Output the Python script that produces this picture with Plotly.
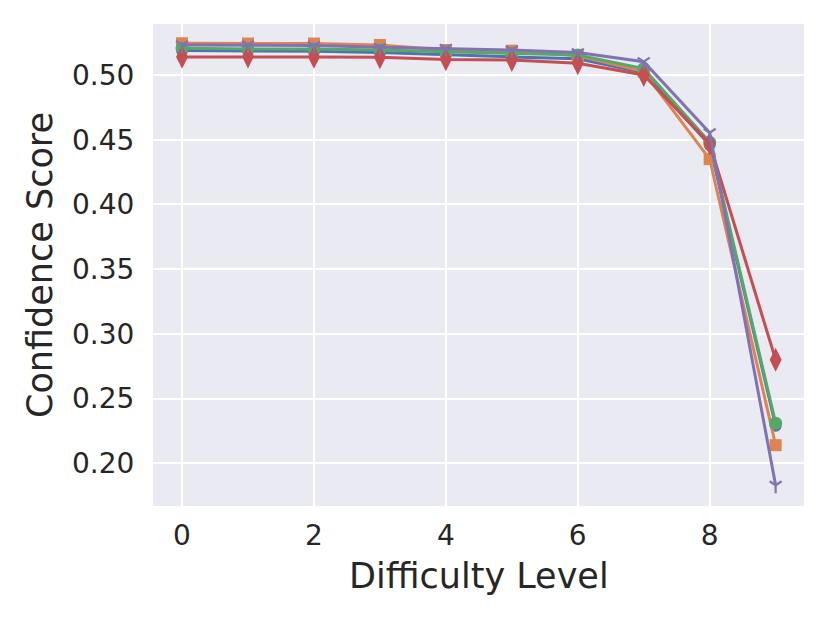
import plotly.graph_objects as go

levels = [0, 1, 2, 3, 4, 5, 6, 7, 8, 9]
blue = [0.519, 0.5188, 0.5183, 0.5173, 0.5155, 0.514, 0.5125, 0.502, 0.446, 0.229]
orange = [0.5245, 0.5243, 0.5243, 0.5232, 0.5193, 0.5188, 0.5148, 0.5026, 0.435, 0.214]
green = [0.5206, 0.520, 0.520, 0.5193, 0.518, 0.5168, 0.5155, 0.505, 0.448, 0.231]
red = [0.514, 0.5142, 0.514, 0.5137, 0.512, 0.5116, 0.509, 0.500, 0.447, 0.280]
purple = [0.5232, 0.5232, 0.5227, 0.5214, 0.5206, 0.5193, 0.5173, 0.5103, 0.4554, 0.183]

series = [
    (blue, "#4C72B0", "circle", 12),
    (orange, "#DD8452", "square", 12),
    (green, "#55A868", "circle", 13),
    (red, "#C44E52", "diamond-tall", 17),
    (purple, "#8172B3", "y-down-open", 10),
]

fig = go.Figure()
for vals, col, sym, sz in series:
    marker = dict(symbol=sym, size=sz, color=col)
    if "open" in sym:
        marker["line"] = dict(color=col, width=2.2)
    else:
        marker["line"] = dict(width=0)
    fig.add_trace(go.Scatter(x=levels, y=vals, mode="lines+markers",
                             line=dict(color=col, width=3), marker=marker,
                             showlegend=False))

fig.update_layout(
    width=830, height=623,
    margin=dict(l=145, r=34, t=16, b=125),
    paper_bgcolor="white", plot_bgcolor="#EAEAF2",
    font=dict(family="DejaVu Sans", color="#262626"),
    xaxis=dict(range=[-0.44, 9.43], tickvals=[0, 2, 4, 6, 8],
               showgrid=True, gridcolor="white", gridwidth=2, zeroline=False,
               showline=False, ticks="outside", ticklen=4, tickcolor="rgba(0,0,0,0)",
               tickfont=dict(size=28, color="#262626")),
    yaxis=dict(range=[0.167, 0.5394], tickvals=[0.20, 0.25, 0.30, 0.35, 0.40, 0.45, 0.50],
               ticktext=["0.20", "0.25", "0.30", "0.35", "0.40", "0.45", "0.50"],
               showgrid=True, gridcolor="white", gridwidth=2, zeroline=False,
               showline=False, ticks="outside", ticklen=12, tickcolor="rgba(0,0,0,0)",
               tickfont=dict(size=28, color="#262626")),
    annotations=[
        dict(text="Difficulty Level", xref="paper", yref="paper", x=0.5, y=-0.1,
             xanchor="center", yanchor="top", showarrow=False,
             font=dict(size=35, color="#262626")),
        dict(text="Confidence Score", xref="paper", yref="paper", x=-0.1736, y=0.5,
             xanchor="center", yanchor="middle", textangle=-90, showarrow=False,
             font=dict(size=35, color="#262626")),
    ],
)

fig.write_html("out.html")
